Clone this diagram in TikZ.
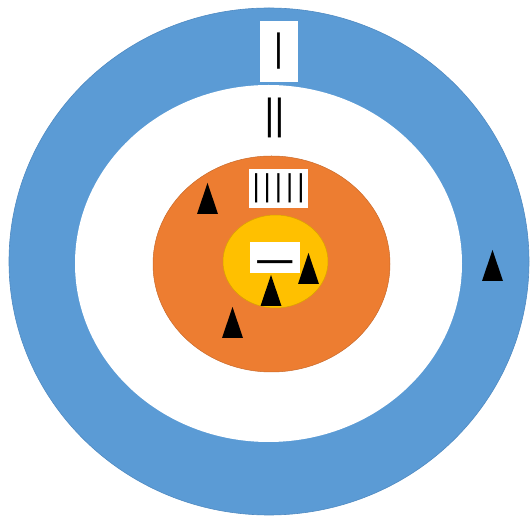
\documentclass[tikz,border=0pt]{standalone}
\usepackage{fontspec}
\setmainfont{Carlito}
\definecolor{ringblue}{HTML}{5B9BD5}
\definecolor{ringedge}{HTML}{4F8AC2}
\definecolor{midorange}{HTML}{ED7D31}
\definecolor{coregold}{HTML}{FFC000}
\usetikzlibrary{positioning}

\begin{document}
\begin{tikzpicture}[x=1pt,y=-1pt,
  tallybox/.style={fill=white, inner sep=0pt, align=center},
  tally/.style={inner sep=0pt, align=center},
  marker/.style={fill=black}
]
  \fill[white] (0,0) rectangle (531,518);
  \useasboundingbox (0,0) rectangle (531,518);

  % rings
  \fill[ringblue, draw=ringedge, line width=0.6pt]
    (269,261.5) ellipse [x radius=260pt, y radius=253.5pt];
  \fill[white] (268.5,263.5) ellipse [x radius=193.5pt, y radius=178.5pt];
  \fill[midorange, draw=midorange!85!black, line width=0.5pt]
    (271.5,264) ellipse [x radius=118.5pt, y radius=108pt];
  \fill[coregold, draw=coregold!85!black, line width=0.5pt]
    (275.5,261.5) ellipse [x radius=52.5pt, y radius=46.5pt];

  % tally labels
  \node[tallybox, minimum width=38pt, minimum height=61pt,
        font=\fontsize{41}{41}\selectfont] (one) at (279,51.5) {\textbar};
  \node[tally, font=\fontsize{45}{45}\selectfont] (two) at (275,117.5)
    {\textbar\kern-10pt\textbar};
  \node[tallybox, minimum width=57pt, minimum height=39pt,
        font=\fontsize{33}{33}\selectfont] (five) at (278.5,188.5)
    {\textbar\kern-4pt\textbar\kern-4pt\textbar\kern-4pt\textbar\kern-4pt\textbar};
  \node[tallybox, minimum width=50pt, minimum height=31pt,
        font=\fontsize{48}{48}\selectfont] (dash) at (275,257.5)
    {\raisebox{-18.5pt}[0pt][0pt]{—}};

  % triangles
  \foreach \x/\y in {492.5/281, 207.5/214, 232.5/338, 271/306, 308.5/284}
    \fill[marker] ({\x-10.5},\y) -- ({\x+10.5},\y) -- (\x,{\y-31}) -- cycle;
\end{tikzpicture}
\end{document}
